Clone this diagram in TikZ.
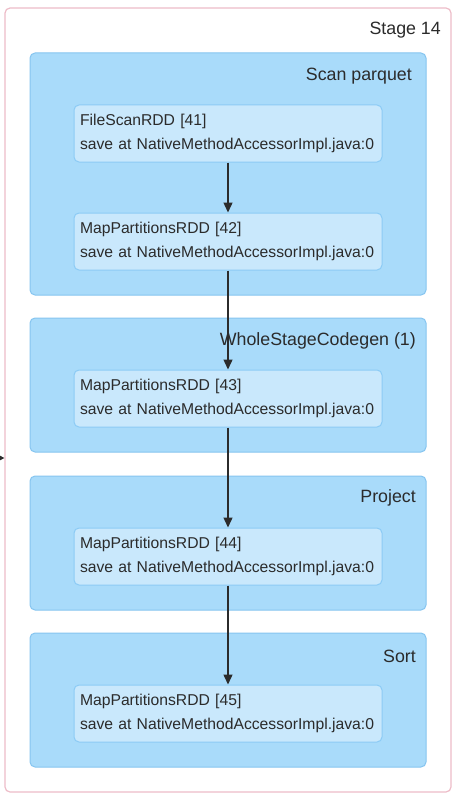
\documentclass[tikz,border=0pt]{standalone}
\usepackage{fontspec}
\setmainfont{Liberation Sans}
\usetikzlibrary{arrows.meta}
\definecolor{stageborder}{HTML}{EDBCC8}
\definecolor{clusterfill}{HTML}{A9DBFA}
\definecolor{clusterdraw}{HTML}{86C5F0}
\definecolor{rddfill}{HTML}{C9E8FC}
\definecolor{rdddraw}{HTML}{8CCBF5}
\definecolor{txt}{HTML}{2B2B2B}
\tikzset{
  stagebox/.style={draw=stageborder, line width=1.2pt, fill=white, rounded corners=5pt},
  clusterbox/.style={draw=clusterdraw, line width=1pt, fill=clusterfill, rounded corners=5pt, minimum width=396pt, inner sep=0pt},
  rddbox/.style={draw=rdddraw, line width=1pt, fill=rddfill, rounded corners=5pt, minimum width=308pt, minimum height=57pt, text width=296pt, inner xsep=6pt, align=left, text=txt, font=\fontsize{15.7pt}{24pt}\selectfont},
  lbl/.style={anchor=east, text=txt, font=\fontsize{17.8pt}{20pt}\selectfont, inner sep=0pt},
  flow/.style={draw=txt, line width=1.4pt, -{Triangle[width=9pt,length=10pt]}},
}
\begin{document}
\begin{tikzpicture}[x=1pt,y=-1pt]
\useasboundingbox (0,0) rectangle (460,797);
\node[stagebox, minimum width=446pt, minimum height=784pt, inner sep=0pt] (stage) at (228,400) {};
\node[lbl] (stagelbl) at (441,30) {Stage 14};
\node[clusterbox, minimum height=242pt] (c1) at (228,174) {};
\node[clusterbox, minimum height=134pt] (c2) at (228,385) {};
\node[clusterbox, minimum height=134pt] (c3) at (228,543) {};
\node[clusterbox, minimum height=134pt] (c4) at (228,700) {};
\node[lbl] (l1) at (412,76) {Scan parquet};
\node[lbl] (l2) at (416,341) {WholeStageCodegen (1)};
\node[lbl] (l3) at (416,498) {Project};
\node[lbl] (l4) at (416,656) {Sort};
\node[rddbox] (r41) at (228,133.5) {FileScanRDD [41]\\save at NativeMethodAccessorImpl.java:0};
\node[rddbox] (r42) at (228,241.5) {MapPartitionsRDD [42]\\save at NativeMethodAccessorImpl.java:0};
\node[rddbox] (r43) at (228,398.5) {MapPartitionsRDD [43]\\save at NativeMethodAccessorImpl.java:0};
\node[rddbox] (r44) at (228,556.5) {MapPartitionsRDD [44]\\save at NativeMethodAccessorImpl.java:0};
\node[rddbox] (r45) at (228,713.5) {MapPartitionsRDD [45]\\save at NativeMethodAccessorImpl.java:0};
\draw[flow] (r41) -- (r42);
\draw[flow] (r42) -- (r43);
\draw[flow] (r43) -- (r44);
\draw[flow] (r44) -- (r45);
\coordinate (ext) at (-3,458);
\draw[draw=txt, line width=1pt, -{Triangle[width=5pt,length=5pt]}] (ext) -- (ext -| stage.west);
\end{tikzpicture}
\end{document}
